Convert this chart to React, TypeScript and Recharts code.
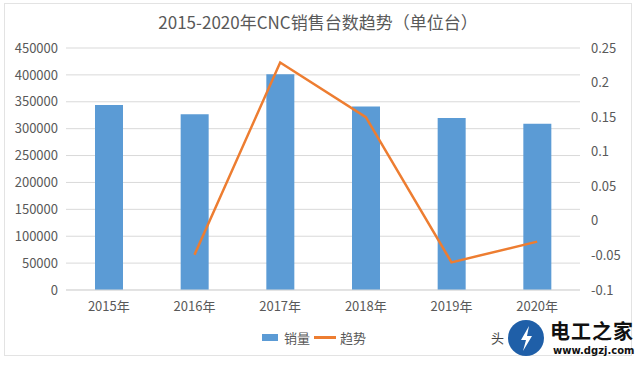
import React from "react";
import { ComposedChart, Bar, Line, XAxis, YAxis, CartesianGrid } from "recharts";

const categories = ["2015年", "2016年", "2017年", "2018年", "2019年", "2020年"];
const salesValues = [344000, 327000, 401000, 341000, 320000, 309000];
const trendValues: (number | null)[] = [null, -0.049, 0.229, 0.15, -0.06, -0.03];
const leftTicks = [0, 50000, 100000, 150000, 200000, 250000, 300000, 350000, 400000, 450000];
const rightTicks = [-0.1, -0.05, 0, 0.05, 0.1, 0.15, 0.2, 0.25];
const rightTickLabels = ["-0.1", "-0.05", "0", "0.05", "0.1", "0.15", "0.2", "0.25"];
const seriesNames = ["销量", "趋势"];

const data = categories.map((c, i) => ({ name: c, sales: salesValues[i], trend: trendValues[i] }));

const FONT = '"Noto Sans CJK SC", "Noto Sans", sans-serif';
const TXT = "#595959";

const LegendBox = () => (
  <div style={{ position: "absolute", left: 262, top: 328, display: "flex", alignItems: "center", fontFamily: FONT, fontSize: 13, color: TXT }}>
    <span style={{ display: "inline-block", width: 16, height: 7, background: "#5B9BD5", marginRight: 6 }} />
    <span style={{ marginRight: 4 }}>{seriesNames[0]}</span>
    <span style={{ display: "inline-block", width: 22, height: 2.5, background: "#ED7D31", marginRight: 4 }} />
    <span>{seriesNames[1]}</span>
  </div>
);

export default function App() {
  return (
    <div style={{ position: "absolute", left: 0, top: 0, width: 640, height: 369, background: "#fff", fontFamily: FONT }}>
      <div style={{ position: "absolute", left: 4, top: 3, width: 628, height: 353, border: "1px solid #e3e3e3", boxSizing: "border-box" }} />
      <div style={{ position: "absolute", left: 0, top: 9, width: 636, textAlign: "center", fontSize: 17, color: TXT }}>
        2015-2020年CNC销售台数趋势（单位台）
      </div>
      <ComposedChart width={640} height={369} data={data} margin={{ top: 48, right: 8, left: 8, bottom: 49 }} style={{ position: "absolute", left: 0, top: 0 }}>
        <CartesianGrid yAxisId="left" vertical={false} stroke="#d9d9d9" strokeWidth={1} />
        <XAxis dataKey="name" height={30} tickLine={false} axisLine={{ stroke: "#d9d9d9" }} tickSize={0} tickMargin={12} tick={{ fill: TXT, fontSize: 13, fontFamily: FONT }} interval={0} />
        <YAxis yAxisId="left" width={58} domain={[0, 450000]} ticks={leftTicks} tickLine={false} axisLine={false} tickSize={0} tickMargin={8} tick={{ fill: TXT, fontSize: 13, fontFamily: FONT }} allowDataOverflow />
        <YAxis yAxisId="right" orientation="right" width={52} domain={[-0.1, 0.25]} ticks={rightTicks} tickFormatter={(v: number) => rightTickLabels[rightTicks.findIndex((t) => Math.abs(t - v) < 1e-9)] ?? String(v)} tickLine={false} axisLine={false} tickSize={0} tickMargin={11} tick={{ fill: TXT, fontSize: 13, fontFamily: FONT, textAnchor: "start" }} allowDataOverflow />
        <Bar yAxisId="left" dataKey="sales" fill="#5B9BD5" barSize={28} isAnimationActive={false} />
        <Line yAxisId="right" dataKey="trend" stroke="#ED7D31" strokeWidth={2.5} dot={false} activeDot={false} isAnimationActive={false} />
      </ComposedChart>
      <LegendBox />
      <div style={{ position: "absolute", left: 491, top: 328, fontSize: 13, color: "#444" }}>头</div>
      <svg width={42} height={42} style={{ position: "absolute", left: 506, top: 318 }}>
        <circle cx={20} cy={20} r={18} fill="#1f5fa8" />
        <path d="M23 8 L15 22 L20 22 L17 33 L26 18 L21 18 Z" fill="#fff" />
      </svg>
      <div style={{ position: "absolute", left: 550, top: 316, fontSize: 20, fontWeight: 700, color: "#111", letterSpacing: 1 }}>电工之家</div>
      <div style={{ position: "absolute", left: 553, top: 345, fontSize: 10, fontWeight: 700, color: "#111", fontFamily: '"DejaVu Sans", sans-serif' }}>www.dgzj.com</div>
    </div>
  );
}
